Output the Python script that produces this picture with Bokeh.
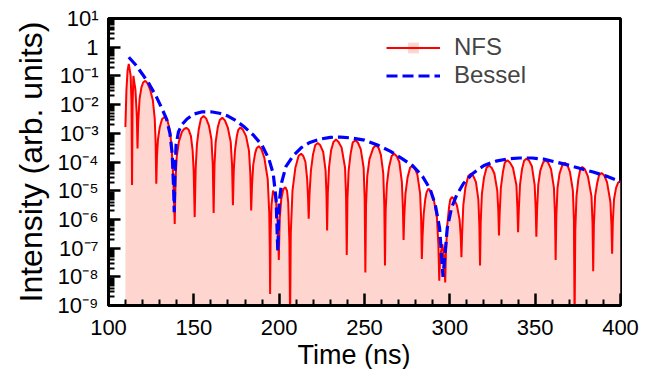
from bokeh.plotting import figure
from bokeh.models import FixedTicker, Legend, LegendItem, Range1d, Title
from bokeh.embed import file_html
from bokeh.resources import INLINE

# ---- data (time in ns, intensity given as log10) ----
nfs_time = [
    109.9, 110.5, 111.2, 111.9, 113.0, 113.5,
    113.8, 114.1, 114.6, 115.8, 116.6, 117.0,
    117.4, 118.2, 119.3, 120.3, 121.6, 123.0,
    124.5, 126.0, 127.1, 127.6, 128.0, 128.4,
    129.0, 130.0, 131.4, 132.9, 134.4, 136.0,
    137.0, 137.8, 138.4, 138.8, 139.3, 140.0,
    141.2, 143.0, 144.3, 145.6, 147.0, 148.3,
    149.3, 149.9, 150.5, 151.1, 151.8, 152.9,
    154.2, 155.7, 157.2, 158.8, 160.3, 161.1,
    161.6, 162.1, 162.8, 164.0, 165.2, 166.7,
    168.2, 169.9, 171.6, 172.4, 172.9, 173.4,
    174.1, 175.2, 176.0, 177.3, 178.8, 180.6,
    182.3, 183.1, 183.6, 184.1, 184.8, 185.9,
    186.8, 188.1, 189.6, 191.3, 193.3, 194.2,
    194.5, 194.7, 195.0, 195.5, 196.4, 197.4,
    198.2, 199.2, 199.8, 200.3, 201.2, 202.4,
    203.6, 204.6, 205.3, 206.0, 206.4, 206.8,
    207.8, 209.5, 211.4, 212.9, 214.2, 215.4,
    216.4, 216.9, 217.3, 217.8, 218.6, 219.8,
    221.1, 222.6, 224.1, 225.8, 227.2, 227.7,
    228.1, 228.5, 229.2, 230.4, 231.8, 233.3,
    234.8, 236.6, 238.6, 239.2, 239.6, 240.0,
    240.7, 241.9, 243.1, 244.6, 246.1, 247.8,
    249.5, 250.1, 250.5, 250.9, 251.6, 252.9,
    255.2, 256.7, 258.2, 259.6, 261.0, 261.6,
    262.0, 262.4, 263.1, 264.3, 265.9, 267.4,
    268.9, 270.4, 271.9, 272.5, 272.9, 273.3,
    274.0, 275.2, 276.7, 278.2, 279.6, 281.0,
    282.6, 283.2, 283.6, 284.0, 284.7, 285.6,
    286.4, 287.5, 288.8, 290.4, 292.4, 293.3,
    293.8, 294.3, 295.6, 296.6, 297.3, 297.7,
    298.5, 299.5, 300.2, 301.2, 302.6, 304.1,
    305.7, 306.4, 306.8, 307.2, 307.9, 309.1,
    310.8, 312.3, 313.8, 315.3, 316.7, 317.3,
    317.7, 318.1, 318.8, 320.0, 321.5, 323.0,
    324.5, 326.1, 327.8, 328.4, 328.8, 329.2,
    329.9, 331.1, 332.2, 333.7, 335.2, 337.0,
    339.0, 339.6, 340.0, 340.4, 341.1, 342.3,
    343.5, 345.0, 346.5, 348.1, 349.7, 350.3,
    350.7, 351.1, 351.8, 353.0, 354.6, 356.1,
    357.6, 359.3, 361.0, 361.6, 362.0, 362.4,
    363.1, 364.3, 365.9, 367.4, 368.9, 370.4,
    372.1, 372.7, 373.1, 373.5, 374.2, 375.3,
    376.4, 377.6, 379.1, 380.9, 383.0, 383.6,
    384.0, 384.4, 385.1, 386.3, 387.4, 388.9,
    390.4, 392.1, 394.1, 394.7, 395.1, 395.5,
    396.2, 397.4, 398.6, 400.0,
]
nfs_log10 = [
    -2.78, -1.5, -0.8, -0.58, -1.0, -2.0,
    -4.8, -2.0, -1.0, -1.5, -2.4, -3.53,
    -2.6, -1.8, -1.4, -1.23, -1.17, -1.27,
    -1.5, -1.85, -2.5, -3.3, -4.76, -3.8,
    -3.2, -2.8, -2.5, -2.43, -2.52, -2.9,
    -3.5, -4.4, -5.3, -6.16, -4.6, -3.8,
    -3.3, -2.95, -2.85, -2.81, -2.88, -3.1,
    -3.6, -4.3, -5.92, -4.2, -3.4, -2.85,
    -2.48, -2.40, -2.48, -2.72, -3.2, -4.1,
    -5.78, -4.1, -3.3, -2.8, -2.54, -2.46,
    -2.55, -2.8, -3.3, -4.1, -5.51, -4.3,
    -3.6, -3.1, -2.88, -2.80, -2.88, -3.1,
    -3.6, -4.4, -5.69, -4.8, -4.1, -3.7,
    -3.52, -3.45, -3.55, -3.85, -4.6, -5.8,
    -7.0, -8.6, -6.5, -5.5, -5.0, -5.15,
    -5.4, -6.2, -7.41, -6.0, -5.3, -4.95,
    -4.88, -5.0, -5.4, -6.8, -9.6, -6.5,
    -5.0, -4.2, -3.78, -3.71, -3.8, -4.0,
    -4.6, -5.2, -5.98, -5.1, -4.3, -3.75,
    -3.42, -3.34, -3.42, -3.65, -4.3, -5.1,
    -6.39, -5.1, -4.2, -3.6, -3.3, -3.22,
    -3.3, -3.5, -4.2, -5.2, -7.24, -5.3,
    -4.3, -3.7, -3.32, -3.24, -3.32, -3.55,
    -4.2, -5.3, -7.85, -5.5, -4.5, -3.9,
    -3.5, -3.42, -3.5, -3.75, -4.4, -5.5,
    -7.61, -5.7, -4.8, -4.2, -3.79, -3.71,
    -3.8, -4.0, -4.7, -5.6, -6.72, -5.9,
    -5.1, -4.55, -4.2, -4.12, -4.22, -4.45,
    -5.1, -6.0, -7.38, -6.6, -5.8, -5.3,
    -5.05, -4.93, -5.02, -5.25, -5.9, -6.9,
    -8.14, -7.3, -6.86, -7.3, -8.2, -7.2,
    -6.2, -5.6, -5.32, -5.22, -5.3, -5.5,
    -6.0, -6.6, -7.32, -6.5, -5.5, -4.9,
    -4.49, -4.41, -4.49, -4.7, -5.3, -6.2,
    -7.61, -6.1, -5.1, -4.55, -4.2, -4.12,
    -4.2, -4.4, -5.0, -5.7, -6.56, -5.8,
    -4.9, -4.35, -4.02, -3.94, -4.02, -4.2,
    -4.8, -5.6, -6.45, -5.7, -4.8, -4.25,
    -3.96, -3.88, -3.96, -4.15, -4.8, -5.6,
    -6.6, -5.7, -4.8, -4.3, -4.02, -3.94,
    -4.02, -4.25, -4.9, -5.8, -7.41, -5.9,
    -4.9, -4.4, -4.11, -4.03, -4.11, -4.35,
    -5.0, -6.0, -9.6, -6.4, -5.2, -4.6,
    -4.26, -4.17, -4.25, -4.5, -5.2, -6.1,
    -7.81, -6.2, -5.2, -4.75, -4.46, -4.38,
    -4.46, -4.7, -5.4, -6.2, -7.2, -6.1,
    -5.3, -4.9, -4.72, -4.66,
]

bessel_time = [
    111.9, 116.0, 120.0, 124.0, 128.0, 131.0, 134.0, 136.0, 137.3, 138.2,
    138.5, 138.9, 139.6, 141.0, 143.0, 146.0, 150.0, 155.0, 160.0, 165.0,
    170.0, 175.0, 180.0, 185.0, 190.0, 194.0, 196.5, 198.2, 199.2, 200.0,
    201.5, 204.0, 208.0, 213.0, 218.0, 224.0, 230.0, 236.0, 242.0, 250.0,
    258.0, 265.0, 272.0, 278.0, 284.0, 288.5, 291.5, 294.0, 296.0, 298.5,
    301.0, 304.0, 308.0, 313.0, 320.0, 327.0, 334.0, 341.0, 348.0, 355.0,
    362.0, 369.0, 376.0, 384.0, 392.0, 400.0,
]
bessel_log10 = [
    -0.35, -0.62, -0.95, -1.3, -1.72, -2.1, -2.5, -3.0, -3.7, -5.0,
    -5.75, -4.5, -3.4, -2.95, -2.7, -2.5, -2.33, -2.25, -2.25, -2.3,
    -2.4, -2.57, -2.8, -3.07, -3.42, -3.9, -4.4, -5.3, -7.1, -5.4,
    -4.7, -4.15, -3.8, -3.5, -3.32, -3.2, -3.14, -3.13, -3.16, -3.24,
    -3.42, -3.62, -3.88, -4.12, -4.5, -4.95, -5.5, -6.3, -8.0, -6.3,
    -5.6, -5.15, -4.75, -4.42, -4.12, -3.97, -3.89, -3.86, -3.86, -3.9,
    -4.0, -4.1, -4.22, -4.35, -4.5, -4.68,
]

x_ticks = [100, 150, 200, 250, 300, 350, 400]
x_minor = [110, 120, 130, 140, 160, 170, 180, 190, 210, 220, 230, 240,
           260, 270, 280, 290, 310, 320, 330, 340, 360, 370, 380, 390]
y_tick_exponents = [-9, -8, -7, -6, -5, -4, -3, -2, -1, 0, 1]
y_tick_labels = ["10⁻⁹", "10⁻⁸", "10⁻⁷", "10⁻⁶", "10⁻⁵", "10⁻⁴",
                 "10⁻³", "10⁻²", "10⁻¹", "1", "10¹"]

series_labels = ["NFS", "Bessel"]
x_title = "Time (ns)"
y_title = "Intensity (arb. units)"

nfs = [10 ** v for v in nfs_log10]
bessel = [10 ** v for v in bessel_log10]

FONT = "Liberation Sans"
PINK = "#ffd6cf"

p = figure(width=650, height=369, x_range=Range1d(100, 400),
           y_range=Range1d(1e-9, 10), y_axis_type="log",
           output_backend="svg", toolbar_location=None,
           min_border_left=108, min_border_right=30,
           min_border_top=18, min_border_bottom=20)

p.varea(x=nfs_time, y1=1e-12, y2=nfs, fill_color=PINK)
# legend-only square swatch (its single point lies far below the visible range)
sq = p.scatter(x=nfs_time[:1], y=[1e-30], marker="square", size=11,
               fill_color=PINK, line_color=None)
nfs_line = p.line(nfs_time, nfs, line_color="#ff0000", line_width=2)
bes_line = p.line(bessel_time, bessel, line_color="#0000ff", line_width=3.2, line_dash="11 5")

legend = Legend(items=[LegendItem(label=series_labels[0], renderers=[sq, nfs_line]),
                       LegendItem(label=series_labels[1], renderers=[bes_line])],
                location=(278, 216), glyph_width=54, glyph_height=27,
                label_height=27, spacing=0, padding=0, margin=0,
                label_standoff=14, border_line_alpha=0, background_fill_alpha=0,
                label_text_font=FONT, label_text_font_size="24px")
p.add_layout(legend)

y_ticks = [10.0 ** e for e in y_tick_exponents]
y_minor = [m * 10.0 ** e for e in y_tick_exponents[:-1] for m in range(2, 10)]
p.xaxis.ticker = FixedTicker(ticks=x_ticks, minor_ticks=x_minor)
p.yaxis.ticker = FixedTicker(ticks=y_ticks, minor_ticks=y_minor)
p.yaxis.major_label_overrides = {t: lab for t, lab in zip(y_ticks, y_tick_labels)}

p.yaxis.axis_label = y_title

for ax in (p.xaxis[0], p.yaxis[0]):
    ax.axis_line_width = 3
    ax.axis_line_color = "black"
    ax.major_tick_in = 12
    ax.major_tick_out = 0
    ax.minor_tick_in = 6
    ax.minor_tick_out = 0
    ax.major_tick_line_width = 2.5
    ax.minor_tick_line_width = 2
    ax.major_tick_line_color = "black"
    ax.minor_tick_line_color = "black"
    ax.major_label_text_font = FONT
    ax.major_label_text_font_size = "22px"
    ax.major_label_text_color = "black"
    ax.axis_label_text_font = FONT
    ax.axis_label_text_font_style = "normal"
    ax.axis_label_text_color = "black"

p.yaxis.axis_label_text_font_size = "32px"
p.xaxis.major_label_standoff = 14
p.yaxis.major_label_standoff = 10
p.yaxis.axis_label_standoff = 6

# x-axis title (slightly left of the frame centre, as in the original)
p.add_layout(Title(text=x_title, align="left", offset=189, standoff=0,
                   text_font=FONT, text_font_size="27px",
                   text_font_style="normal", text_color="black"), "below")

p.xgrid.visible = False
p.ygrid.visible = False
p.outline_line_color = "black"
p.outline_line_width = 3
p.outline_line_alpha = 1
p.background_fill_color = "white"
p.border_fill_color = "white"

open("out.html", "w").write(file_html(p, INLINE))
